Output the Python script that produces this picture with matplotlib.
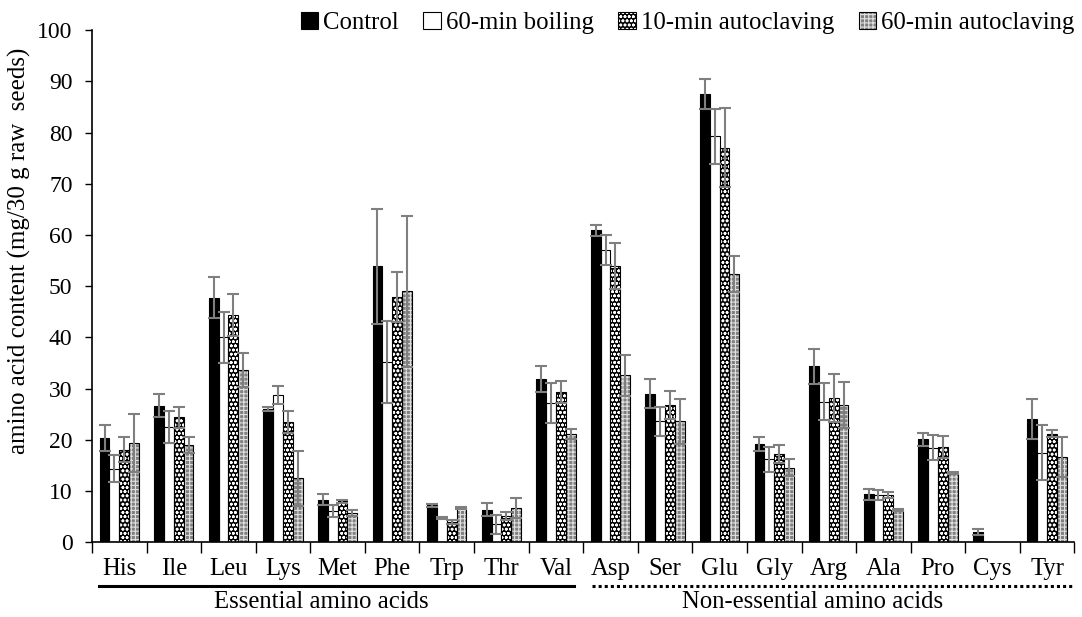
import numpy as np
import matplotlib
matplotlib.use("Agg")
import matplotlib.pyplot as plt
import matplotlib.patches as mpatches
from matplotlib.legend_handler import HandlerTuple
from matplotlib.transforms import blended_transform_factory

plt.rcParams["font.family"] = ["Liberation Serif", "DejaVu Serif"]
plt.rcParams["hatch.linewidth"] = 0.8

# ---- data ----
amino_acids = ["His", "Ile", "Leu", "Lys", "Met", "Phe", "Trp", "Thr", "Val",
               "Asp", "Ser", "Glu", "Gly", "Arg", "Ala", "Pro", "Cys", "Tyr"]

control      = [20.4, 26.7, 47.8, 26.0, 8.3, 53.9, 7.2, 6.4, 31.9,
                60.9, 29.0, 87.5, 19.2, 34.4, 9.4, 20.1, 2.1, 24.0]
control_err  = [2.5, 2.3, 4.0, 0.4, 1.1, 11.2, 0.3, 1.3, 2.5,
                1.0, 2.8, 2.9, 1.3, 3.4, 1.1, 1.3, 0.6, 3.9]

boiling      = [14.4, 22.5, 40.0, 28.8, 6.1, 35.3, 4.7, 3.5, 27.2,
                57.1, 23.6, 79.3, 16.2, 27.5, 9.2, 18.5, 0.0, 17.5]
boiling_err  = [2.6, 3.1, 5.0, 1.7, 1.2, 8.0, 0.2, 1.8, 3.9,
                2.9, 2.8, 5.4, 2.4, 3.6, 1.0, 2.4, 0.0, 5.4]

auto10       = [18.1, 24.4, 44.3, 23.5, 8.0, 47.9, 4.0, 5.2, 29.4,
                53.9, 26.8, 77.1, 17.3, 28.2, 9.2, 18.6, 0.0, 21.2]
auto10_err   = [2.5, 2.0, 4.1, 2.1, 0.3, 4.9, 0.4, 0.8, 2.1,
                4.5, 2.7, 7.8, 1.8, 4.7, 0.6, 2.1, 0.0, 0.7]

auto60       = [19.4, 19.0, 33.6, 12.5, 5.8, 49.0, 6.7, 6.7, 21.2,
                32.6, 23.6, 52.4, 14.6, 26.9, 6.4, 13.6, 0.0, 16.7]
auto60_err   = [5.7, 1.6, 3.3, 5.4, 0.6, 14.7, 0.2, 2.0, 1.0,
                4.0, 4.3, 3.5, 1.6, 4.5, 0.2, 0.2, 0.0, 3.9]

series_names = ["Control", "60-min boiling", "10-min autoclaving", "60-min autoclaving"]

# ---- styling per series ----
STYLES = [
    dict(face="black", hatch=None, hcol="black"),
    dict(face="white", hatch=None, hcol="black"),
    dict(face="black", hatch="oooo", hcol="white"),
    dict(face="#808080", hatch="++++", hcol="#e0e0e0"),
]
ERR_COLOR = "#7f7f7f"
FS = 17.8

fig = plt.figure(figsize=(10.82, 6.17), dpi=100)
ax = fig.add_axes([0.085, 0.121, 0.908, 0.83])

x = np.arange(len(amino_acids))
width = 0.18
offsets = (np.arange(4) - 1.5) * width
values = [control, boiling, auto10, auto60]
errors = [control_err, boiling_err, auto10_err, auto60_err]

for i, (vals, errs, st) in enumerate(zip(values, errors, STYLES)):
    xs = x + offsets[i]
    # fill + pattern, then outline on top
    ax.bar(xs, vals, width, color=st["face"], edgecolor=st["hcol"],
           hatch=st["hatch"], linewidth=0, zorder=2)
    ax.bar(xs, vals, width, facecolor="none", edgecolor="black",
           linewidth=0.8, zorder=3)
    mask = np.array(vals) > 0
    ax.errorbar(xs[mask], np.array(vals)[mask], yerr=np.array(errs)[mask],
                fmt="none", ecolor=ERR_COLOR, elinewidth=1.5, capsize=4,
                capthick=1.5, zorder=4)

ax.set_xlim(-0.5, len(amino_acids) - 0.5)
ax.set_ylim(0, 100)
ax.set_yticks(np.arange(0, 101, 10))
ax.tick_params(axis="y", labelsize=FS - 0.8, length=5, width=1,
               direction="out", pad=9)

# category boundaries as ticks, names as minor labels
ax.set_xticks(np.arange(-0.5, len(amino_acids) + 0.5, 1))
ax.set_xticklabels([])
ax.set_xticks(x, minor=True)
ax.set_xticklabels(amino_acids, minor=True, fontsize=FS)
ax.tick_params(axis="x", which="major", length=8, width=1, direction="out")
ax.tick_params(axis="x", which="minor", length=0, pad=11)

for side in ["top", "right"]:
    ax.spines[side].set_visible(False)
ax.spines["left"].set_linewidth(1.2)
ax.spines["bottom"].set_linewidth(1.2)

ax.set_ylabel("amino acid content (mg/30 g raw  seeds)", fontsize=18.0)
ax.yaxis.set_label_coords(-0.062, 0.57)

# group brackets under the axis
trans = blended_transform_factory(ax.transData, ax.transAxes)
ax.plot([-0.37, 8.33], [-0.086, -0.086], transform=trans, color="black",
        linewidth=2.2, clip_on=False)
ax.plot([8.66, 17.48], [-0.086, -0.086], transform=trans, color="black",
        linewidth=2.2, linestyle=(0, (1, 1)), clip_on=False)
ax.text(3.7, -0.095, "Essential amino acids", transform=trans, ha="center",
        va="top", fontsize=FS)
ax.text(12.7, -0.095, "Non-essential amino acids", transform=trans, ha="center",
        va="top", fontsize=FS)

# legend: pattern patch + black outline overlaid
handles = []
for name, st in zip(series_names, STYLES):
    fill = mpatches.Patch(facecolor=st["face"], edgecolor=st["hcol"],
                          hatch=st["hatch"], linewidth=0)
    outline = mpatches.Patch(facecolor="none", edgecolor="black", linewidth=0.8)
    handles.append((fill, outline))
leg = ax.legend(handles=handles, labels=series_names, loc="center right",
                bbox_to_anchor=(1.0, 1.014), ncol=4, frameon=False, fontsize=FS,
                handlelength=0.7, handleheight=0.7, handletextpad=0.2,
                columnspacing=1.0, borderaxespad=0, borderpad=0,
                handler_map={tuple: HandlerTuple(ndivide=1, pad=0)})

fig.savefig("out.png", dpi=100)
